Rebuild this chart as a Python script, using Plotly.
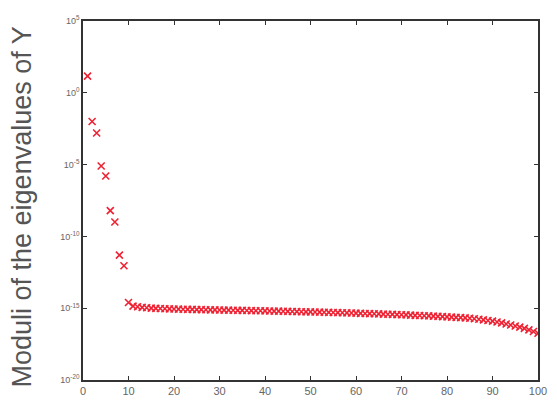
import plotly.graph_objects as go

index = list(range(1, 101))
moduli = [
    14.5, 1.0e-2, 1.6e-3, 8.0e-6, 1.6e-6, 6.3e-9, 1.0e-9, 5.0e-12, 9.0e-13, 2.5e-15,
    1.41e-15, 1.26e-15, 1.15e-15, 1.08e-15, 1.02e-15, 9.8e-16, 9.5e-16, 9.2e-16, 9.0e-16, 8.8e-16,
    8.6e-16, 8.5e-16, 8.3e-16, 8.2e-16, 8.0e-16, 7.9e-16, 7.8e-16, 7.7e-16, 7.6e-16, 7.5e-16,
    7.4e-16, 7.3e-16, 7.2e-16, 7.1e-16, 7.0e-16, 6.9e-16, 6.8e-16, 6.7e-16, 6.6e-16, 6.5e-16,
    6.4e-16, 6.3e-16, 6.2e-16, 6.1e-16, 6.0e-16, 5.9e-16, 5.8e-16, 5.7e-16, 5.6e-16, 5.5e-16,
    5.4e-16, 5.3e-16, 5.2e-16, 5.1e-16, 5.0e-16, 4.9e-16, 4.8e-16, 4.7e-16, 4.6e-16, 4.5e-16,
    4.4e-16, 4.3e-16, 4.2e-16, 4.1e-16, 4.0e-16, 3.9e-16, 3.8e-16, 3.7e-16, 3.6e-16, 3.5e-16,
    3.4e-16, 3.3e-16, 3.2e-16, 3.1e-16, 3.0e-16, 2.9e-16, 2.8e-16, 2.7e-16, 2.6e-16, 2.5e-16,
    2.4e-16, 2.3e-16, 2.2e-16, 2.1e-16, 2.0e-16, 1.85e-16, 1.7e-16, 1.55e-16, 1.4e-16, 1.25e-16,
    1.1e-16, 9.5e-17, 8.0e-17, 6.8e-17, 5.8e-17, 4.8e-17, 3.9e-17, 3.1e-17, 2.4e-17, 1.8e-17,
]

x_ticks = [0, 10, 20, 30, 40, 50, 60, 70, 80, 90, 100]
y_tick_vals = [1e-20, 1e-15, 1e-10, 1e-5, 1e0, 1e5]
y_tick_text = ["10<sup>-20</sup>", "10<sup>-15</sup>", "10<sup>-10</sup>",
               "10<sup>-5</sup>", "10<sup>0</sup>", "10<sup>5</sup>"]
y_label = "Moduli of the eigenvalues of Y"

font_family = "Liberation Sans, Arial, sans-serif"

fig = go.Figure()
fig.add_trace(go.Scatter(
    x=index, y=moduli, mode="markers",
    marker=dict(symbol="x-thin", size=7, line=dict(color="#ee2233", width=1.6)),
    showlegend=False,
))

axis_common = dict(
    showgrid=False, zeroline=False, showline=True, linecolor="#333333", linewidth=1.5,
    mirror="allticks", ticks="inside", ticklen=4, tickcolor="#333333",
)

fig.update_layout(
    width=557, height=407,
    margin=dict(l=83, r=10, t=21, b=20),
    paper_bgcolor="white", plot_bgcolor="white",
    xaxis=dict(range=[0, 100], tickvals=x_ticks, ticktext=[str(v) for v in x_ticks],
               tickfont=dict(family=font_family, size=11, color="#666666"), **axis_common),
    yaxis=dict(
        type="log", range=[-20, 5], tickvals=y_tick_vals, ticktext=y_tick_text,
        tickfont=dict(family=font_family, size=9, color="#666666"),
        **axis_common,
    ),
)

fig.add_annotation(
    text=y_label, xref="paper", yref="paper", x=0, y=0.5, xshift=-62, yshift=-7,
    xanchor="center", yanchor="middle", textangle=-90, showarrow=False,
    font=dict(family=font_family, size=27, color="#555555"),
)

fig.write_html("out.html")
